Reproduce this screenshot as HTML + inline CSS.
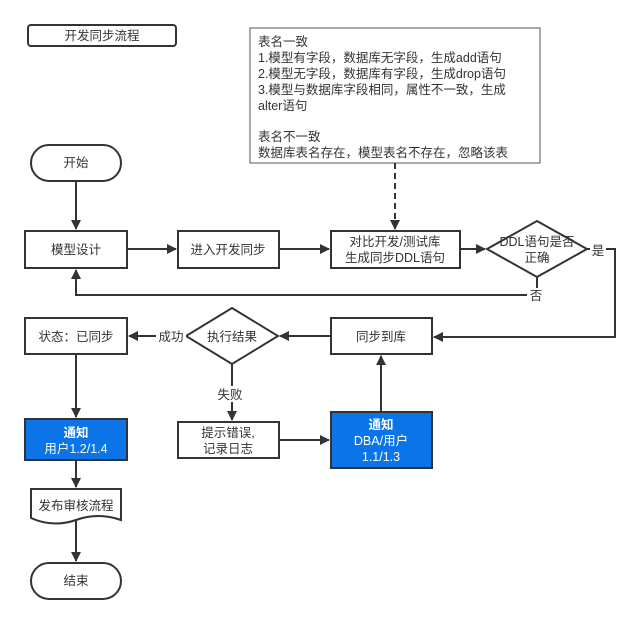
<!DOCTYPE html>
<html><head><meta charset="utf-8"><style>
html,body{margin:0;padding:0;background:#fff}
svg{display:block}
text{font-family:"Liberation Sans","Noto Sans CJK SC",sans-serif;font-size:12.5px;fill:#333}
</style></head><body>
<svg width="634" height="624" viewBox="0 0 634 624" xmlns="http://www.w3.org/2000/svg">
<defs>
<marker id="a" markerWidth="10" markerHeight="10" refX="9" refY="5" orient="auto" markerUnits="userSpaceOnUse">
<path d="M0,0 L10,5 L0,10 Z" fill="#333"/></marker>
</defs>
<g stroke="#333" stroke-width="2" fill="#fff">
<rect x="28" y="25" width="148" height="21" rx="3"/>
<rect x="250" y="28" width="290" height="135" stroke-width="1" stroke="#555"/>
<rect x="31" y="145" width="90" height="36" rx="18"/>
<rect x="25" y="231" width="102" height="37"/>
<rect x="178" y="231" width="101" height="37"/>
<rect x="331" y="231" width="129" height="37"/>
<path d="M537,221 L587,249 L537,277 L487,249 Z"/>
<rect x="25" y="318" width="102" height="36"/>
<path d="M232,308 L278,336 L232,364 L186,336 Z"/>
<rect x="331" y="318" width="101" height="36"/>
<rect x="25" y="419" width="102" height="41" fill="#0a74e8"/>
<rect x="178" y="422" width="101" height="36"/>
<rect x="331" y="412" width="101" height="56" fill="#0a74e8"/>
<path d="M31,489 L121,489 L121,520 Q98,512 76,520 Q53,528 31,518 Z"/>
<rect x="31" y="563" width="90" height="36" rx="18"/>
</g>
<g stroke="#333" stroke-width="2" fill="none">
<path d="M76,181 L76,229" marker-end="url(#a)"/>
<path d="M127,249 L176,249" marker-end="url(#a)"/>
<path d="M279,249 L329,249" marker-end="url(#a)"/>
<path d="M460,249 L485,249" marker-end="url(#a)"/>
<path d="M395,163 L395,229" stroke-dasharray="6,4" marker-end="url(#a)"/>
<path d="M587,249 L615,249 L615,337 L434,337" marker-end="url(#a)"/>
<path d="M537,277 L537,295 L76,295 L76,270" marker-end="url(#a)"/>
<path d="M331,336 L280,336" marker-end="url(#a)"/>
<path d="M186,336 L129,336" marker-end="url(#a)"/>
<path d="M232,364 L232,420" marker-end="url(#a)"/>
<path d="M279,440 L329,440" marker-end="url(#a)"/>
<path d="M381,412 L381,356" marker-end="url(#a)"/>
<path d="M76,354 L76,417" marker-end="url(#a)"/>
<path d="M76,460 L76,487" marker-end="url(#a)"/>
<path d="M76,520 L76,561" marker-end="url(#a)"/>
</g>
<rect x="590" y="242" width="16" height="16" fill="#fff"/>
<rect x="527" y="288" width="18" height="15" fill="#fff"/>
<rect x="156" y="328" width="30" height="16" fill="#fff"/>
<rect x="214" y="386" width="32" height="16" fill="#fff"/>
<g text-anchor="middle">
<text x="102" y="40">开发同步流程</text>
<text x="76" y="167">开始</text>
<text x="76" y="254">模型设计</text>
<text x="228" y="254">进入开发同步</text>
<text x="395" y="246">对比开发/测试库</text>
<text x="395" y="262">生成同步DDL语句</text>
<text x="537" y="246">DDL语句是否</text>
<text x="537" y="262">正确</text>
<text x="598" y="255">是</text>
<text x="536" y="300">否</text>
<text x="76" y="341">状态：已同步</text>
<text x="232" y="341">执行结果</text>
<text x="171" y="341">成功</text>
<text x="381" y="341">同步到库</text>
<text x="230" y="399">失败</text>
<text x="76" y="437" style="fill:#fff;font-weight:bold">通知</text>
<text x="76" y="453" style="fill:#fff">用户1.2/1.4</text>
<text x="228" y="437">提示错误,</text>
<text x="228" y="453">记录日志</text>
<text x="381" y="429" style="fill:#fff;font-weight:bold">通知</text>
<text x="381" y="445" style="fill:#fff">DBA/用户</text>
<text x="381" y="461" style="fill:#fff">1.1/1.3</text>
<text x="76" y="510">发布审核流程</text>
<text x="76" y="585">结束</text>
</g>
<g style="font-size:13px">
<text x="258" y="46">表名一致</text>
<text x="258" y="62">1.模型有字段，数据库无字段，生成add语句</text>
<text x="258" y="78">2.模型无字段，数据库有字段，生成drop语句</text>
<text x="258" y="94">3.模型与数据库字段相同，属性不一致，生成</text>
<text x="258" y="110">alter语句</text>
<text x="258" y="141">表名不一致</text>
<text x="258" y="157">数据库表名存在，模型表名不存在，忽略该表</text>
</g>
</svg>
</body></html>
